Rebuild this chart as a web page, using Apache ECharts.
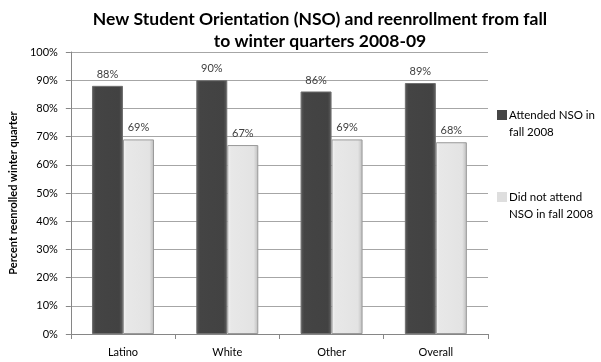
<!DOCTYPE html>
<html>
<head>
<meta charset="utf-8">
<script src="https://cdn.jsdelivr.net/npm/echarts@6/dist/echarts.min.js"></script>
<style>
  html, body { margin: 0; padding: 0; background: #fff; }
  #chart { width: 601px; height: 362px; }
</style>
</head>
<body>
<div id="chart"></div>
<script>
// Reenrollment by group, fall 2008 -> winter 2009 (percent)
const categories = ['Latino', 'White', 'Other', 'Overall'];
const attended = [88, 90, 86, 89];
const didNotAttend = [69, 67, 69, 68];
const seriesNames = ['Attended NSO in\nfall 2008', 'Did not attend\nNSO in fall 2008'];
const yTicks = [0, 10, 20, 30, 40, 50, 60, 70, 80, 90, 100];

const FONT = 'Lato, "Liberation Sans", sans-serif';
const LEGEND_LINE = 17;

// Legend marker: a square at the top of a taller, otherwise empty box,
// so it lines up with the first line of the two-line legend text.
const LEGEND_ICON = 'path://M0,0h10v10h-10z M0,27h0.001v0.001h-0.001z';

const chart = echarts.init(document.getElementById('chart'), null, { renderer: 'canvas' });

// Bevelled look for the bars: lighter edges, flat middle
const darkFill = new echarts.graphic.LinearGradient(0, 0, 1, 0, [
  { offset: 0, color: '#5c5c5c' },
  { offset: 0.12, color: '#444444' },
  { offset: 0.88, color: '#424242' },
  { offset: 1, color: '#606060' }
]);
const lightFill = new echarts.graphic.LinearGradient(0, 0, 1, 0, [
  { offset: 0, color: '#f4f4f4' },
  { offset: 0.12, color: '#e8e8e8' },
  { offset: 0.85, color: '#e3e3e3' },
  { offset: 1, color: '#bcbcbc' }
]);
const legendColors = ['#464646', '#dedede'];

const labelStyle = {
  show: true,
  position: 'top',
  distance: 6,
  formatter: p => p.value + '%',
  fontFamily: FONT,
  fontSize: 11,
  color: '#404040'
};

// One legend per series so each entry can be placed on its own
const legends = [0, 1].map(i => ({
  data: [{ name: seriesNames[i], icon: LEGEND_ICON, itemStyle: { color: legendColors[i], borderWidth: 0 } }],
  orient: 'vertical',
  left: 497,
  top: (i === 0 ? 115 : 197) - LEGEND_LINE * 0.5,
  padding: 0,
  itemWidth: 10,
  itemHeight: 27,
  itemGap: 0,
  selectedMode: false,
  textStyle: {
    fontFamily: FONT,
    fontSize: 11.5,
    color: '#000',
    lineHeight: LEGEND_LINE,
    padding: [0, 0, 0, -3]
  }
}));

chart.setOption({
  animation: false,
  textStyle: { fontFamily: FONT },
  title: {
    text: 'New Student Orientation (NSO) and reenrollment from fall\nto winter quarters 2008-09',
    left: 320,
    textAlign: 'center',
    top: 8,
    padding: 0,
    textStyle: {
      fontFamily: FONT,
      fontSize: 17.5,
      fontWeight: 'bold',
      color: '#000',
      lineHeight: 22
    }
  },
  legend: legends,
  grid: { left: 56, right: 113, top: 52, bottom: 28, containLabel: false },
  xAxis: {
    type: 'category',
    data: categories,
    axisLine: { lineStyle: { color: '#868686', width: 1 } },
    axisTick: { show: true, length: 5, lineStyle: { color: '#868686' } },
    axisLabel: { fontFamily: FONT, fontSize: 11, color: '#000', margin: 13 }
  },
  yAxis: {
    type: 'value',
    min: yTicks[0],
    max: yTicks[yTicks.length - 1],
    interval: yTicks[1] - yTicks[0],
    name: 'Percent reenrolled winter quarter',
    nameLocation: 'middle',
    nameGap: 41,
    nameTextStyle: { fontFamily: FONT, fontSize: 11, fontWeight: 'bold', color: '#000' },
    axisLine: { show: true, lineStyle: { color: '#868686' } },
    axisTick: { show: true, length: 5, lineStyle: { color: '#868686' } },
    axisLabel: { fontFamily: FONT, fontSize: 11, color: '#000', margin: 13, formatter: v => v + '%' },
    splitLine: { lineStyle: { color: '#a6a6a6', width: 1 } }
  },
  series: [
    {
      name: seriesNames[0],
      type: 'bar',
      data: attended,
      barWidth: 31,
      barGap: '0%',
      itemStyle: { color: darkFill, borderColor: '#707070', borderWidth: 1 },
      label: labelStyle
    },
    {
      name: seriesNames[1],
      type: 'bar',
      data: didNotAttend,
      barWidth: 31,
      barGap: '0%',
      itemStyle: { color: lightFill, borderColor: '#9a9a9a', borderWidth: 1 },
      label: labelStyle
    }
  ]
});
</script>
</body>
</html>
